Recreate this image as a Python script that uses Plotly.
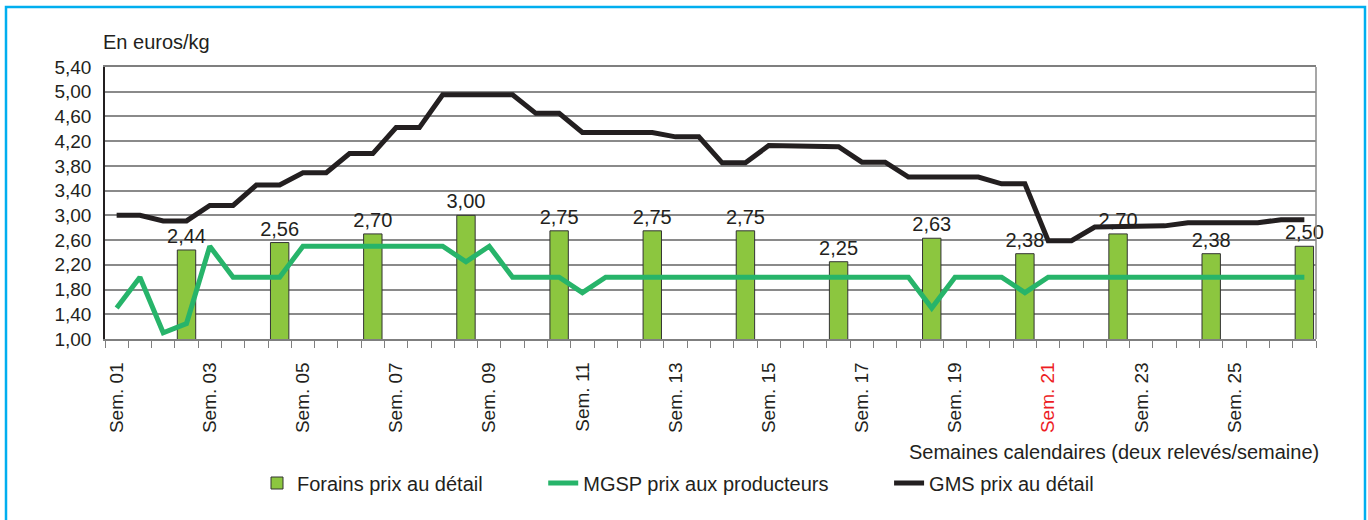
import plotly.graph_objects as go

# --- Data -----------------------------------------------------------------
# 26 calendar weeks, two price readings per week -> 52 readings (index 0..51)
weeks = list(range(1, 27))
readings = [f"Sem. {w:02d} ({k})" for w in weeks for k in (1, 2)]
x_idx = list(range(len(readings)))

# MGSP producer prices (green line), one value per reading
mgsp = [1.50, 2.00, 1.10, 1.25, 2.50, 2.00, 2.00, 2.00, 2.50, 2.50,
        2.50, 2.50, 2.50, 2.50, 2.50, 2.25, 2.50, 2.00, 2.00, 2.00,
        1.75, 2.00, 2.00, 2.00, 2.00, 2.00, 2.00, 2.00, 2.00, 2.00,
        2.00, 2.00, 2.00, 2.00, 2.00, 1.50, 2.00, 2.00, 2.00, 1.75,
        2.00, 2.00, 2.00, 2.00, 2.00, 2.00, 2.00, 2.00, 2.00, 2.00,
        2.00, 2.00]

# GMS retail prices (black line)
gms = [3.00, 3.00, 2.91, 2.91, 3.16, 3.16, 3.49, 3.49, 3.69, 3.69,
       4.00, 4.00, 4.42, 4.42, 4.95, 4.95, 4.95, 4.95, 4.65, 4.65,
       4.34, 4.34, 4.34, 4.34, 4.27, 4.27, 3.85, 3.85, 4.13, 4.12,
       4.11, 4.11, 3.86, 3.86, 3.62, 3.62, 3.62, 3.62, 3.51, 3.51,
       2.59, 2.59, 2.81, 2.82, 2.83, 2.83, 2.88, 2.88, 2.88, 2.88,
       2.93, 2.93]

# Forains retail prices (bars): second reading of even weeks
forains_readings = ["Sem. 02 (2)", "Sem. 04 (2)", "Sem. 06 (2)", "Sem. 08 (2)",
                    "Sem. 10 (2)", "Sem. 12 (2)", "Sem. 14 (2)", "Sem. 16 (2)",
                    "Sem. 18 (2)", "Sem. 20 (2)", "Sem. 22 (2)", "Sem. 24 (2)",
                    "Sem. 26 (2)"]
forains = [2.44, 2.56, 2.70, 3.00, 2.75, 2.75, 2.75, 2.25, 2.63, 2.38, 2.70, 2.38, 2.50]

# Tick labels (first reading of odd weeks)
tick_readings = ["Sem. 01 (1)", "Sem. 03 (1)", "Sem. 05 (1)", "Sem. 07 (1)",
                 "Sem. 09 (1)", "Sem. 11 (1)", "Sem. 13 (1)", "Sem. 15 (1)",
                 "Sem. 17 (1)", "Sem. 19 (1)", "Sem. 21 (1)", "Sem. 23 (1)",
                 "Sem. 25 (1)"]
tick_labels = ["Sem. 01", "Sem. 03", "Sem. 05", "Sem. 07", "Sem. 09", "Sem. 11",
               "Sem. 13", "Sem. 15", "Sem. 17", "Sem. 19",
               "<span style='color:#ed1c24'>Sem. 21</span>", "Sem. 23", "Sem. 25"]

y_ticks = [1.00, 1.40, 1.80, 2.20, 2.60, 3.00, 3.40, 3.80, 4.20, 4.60, 5.00, 5.40]

series_names = ["Forains prix au détail", "MGSP prix aux producteurs", "GMS prix au détail"]

# --- Figure ---------------------------------------------------------------
FONT = "Liberation Sans, Arial, sans-serif"
TXT = "#231f20"
PAD = "\u00a0" * 10  # spacing between legend entries

forains_x = [readings.index(r) for r in forains_readings]
tick_x = [readings.index(r) for r in tick_readings]

fig = go.Figure()
fig.add_trace(go.Bar(
    x=forains_x, y=forains, name=series_names[0] + PAD,
    width=0.79,
    marker=dict(color="#8cc63f", line=dict(color="#333333", width=1)),
    texttemplate="%{y:.2f}", textposition="outside", textangle=0,
    constraintext="none",
    textfont=dict(size=20, color=TXT, family=FONT),
    cliponaxis=False,
))
fig.add_trace(go.Scatter(
    x=x_idx, y=mgsp, mode="lines", name=series_names[1] + PAD,
    line=dict(color="#27b46a", width=5),
))
fig.add_trace(go.Scatter(
    x=x_idx, y=gms, mode="lines", name=series_names[2],
    line=dict(color="#231f20", width=5),
))

W, H = 1368, 520
L, R, T, B = 105, 1316, 67, 339
pw, ph = R - L, B - T

fig.update_layout(
    width=W, height=H,
    margin=dict(l=L, r=W - R, t=T, b=H - B),
    paper_bgcolor="white", plot_bgcolor="white",
    separators=", ",
    font=dict(family=FONT, size=19, color=TXT),
    showlegend=True,
    legend=dict(
        orientation="h", x=(257 - L) / pw, xanchor="left",
        y=(B - 483) / ph, yanchor="middle",
        font=dict(size=20, family=FONT, color=TXT),
        bgcolor="rgba(0,0,0,0)", traceorder="normal",
    ),
    xaxis=dict(
        range=[-0.5, len(readings) - 0.5],
        tickmode="array", tickvals=tick_x, ticktext=tick_labels,
        tickangle=-90, ticks="", ticklabelstandoff=14,
        tickfont=dict(size=19, family=FONT, color=TXT),
        showgrid=False, zeroline=False,
        showline=True, linecolor="#7f7f7f", linewidth=1.5, mirror=True,
        minor=dict(tick0=-0.5, dtick=1, ticks="outside", ticklen=7,
                   tickcolor="#7f7f7f", tickwidth=1, showgrid=False),
    ),
    yaxis=dict(
        range=[1.0, 5.4], tickmode="array", tickvals=y_ticks,
        tickformat=".2f", ticks="", ticklabelstandoff=8,
        tickfont=dict(size=19, family=FONT, color=TXT),
        showgrid=True, gridcolor="#8a8a8a", gridwidth=1.5,
        zeroline=False, showline=True, linecolor="#231f20", linewidth=1.5,
    ),
    annotations=[
        dict(text="En euros/kg", xref="paper", yref="paper", x=0, y=1,
             xanchor="left", yanchor="bottom", xshift=-4, yshift=12,
             showarrow=False, font=dict(size=20, family=FONT, color=TXT)),
        dict(text="Semaines calendaires (deux relevés/semaine)",
             xref="paper", yref="paper", x=1, y=0,
             xanchor="right", yanchor="middle", xshift=5, yshift=-(452 - B),
             showarrow=False, font=dict(size=20, family=FONT, color=TXT)),
    ],
    shapes=[
        # right frame edge of the plot area
        dict(type="line", xref="paper", yref="paper", x0=1, x1=1, y0=0, y1=1,
             line=dict(color="#8a8a8a", width=1.5)),
        # blue outer frame
        dict(type="rect", xref="paper", yref="paper",
             x0=(6 - L) / pw, x1=(1365 - L) / pw,
             y0=(B - 530) / ph, y1=(B - 7) / ph,
             line=dict(color="#00aeef", width=2.5), fillcolor="rgba(0,0,0,0)"),
    ],
)

fig.write_html("out.html", config={"displayModeBar": False},
               post_script="document.body.style.margin='0px';")
